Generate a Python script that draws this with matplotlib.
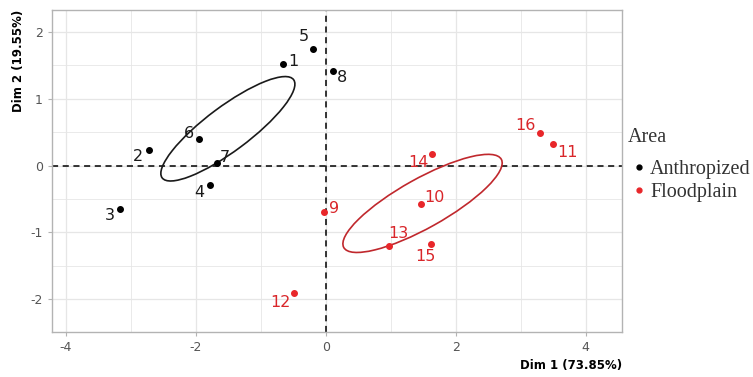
import matplotlib.pyplot as plt
from matplotlib.patches import Ellipse
from matplotlib.lines import Line2D

# individual coordinates on the first two dimensions
labels = ['1', '2', '3', '4', '5', '6', '7', '8',
          '9', '10', '11', '12', '13', '14', '15', '16']
dim1 = [-0.65, -2.72, -3.16, -1.78, -0.19, -1.95, -1.67, 0.11,
        -0.02, 1.46, 3.50, -0.48, 0.97, 1.64, 1.62, 3.29]
dim2 = [1.52, 0.23, -0.65, -0.29, 1.75, 0.40, 0.04, 1.42,
        -0.70, -0.58, 0.33, -1.91, -1.20, 0.18, -1.18, 0.49]
area = ['Anthropized'] * 8 + ['Floodplain'] * 8

# label offsets in pixels (repelled text)
lab_dx = [10, -11, -10, -11, -10, -10, 8, 9, 10, 14, 14, -14, 10, -14, -6, -14]
lab_dy = [3, -6, -6, -7, 12, 5, 5, -7, 4, 7, -9, -9, 12, -9, -12, 7]

# group ellipses: center x, center y, width, height, angle
ell_groups = ['Anthropized', 'Floodplain']
ell_cx = [-1.505, 1.49]
ell_cy = [0.552, -0.565]
ell_w = [2.50, 2.76]
ell_h = [0.67, 0.74]
ell_ang = [35.9, 28.5]

point_col = {'Anthropized': 'black', 'Floodplain': '#e8262a'}
ell_col = {'Anthropized': '#1a1a1a', 'Floodplain': '#c0282d'}

fig = plt.figure(figsize=(7.53, 3.77), dpi=100)
ax = fig.add_axes([0.0687, 0.1202, 0.7577, 0.8533])

# grid like ggplot theme_light
for v in [-4, -3, -2, -1, 0, 1, 2, 3, 4]:
    ax.axvline(v, color='#e6e6e6', lw=0.9 if v % 2 == 0 else 0.6, zorder=0)
for v in [-2, -1.5, -1, -0.5, 0, 0.5, 1, 1.5, 2]:
    ax.axhline(v, color='#e6e6e6', lw=0.9 if v % 1 == 0 else 0.6, zorder=0)

ax.axhline(0, color='black', ls=(0, (4, 3)), lw=1.1, zorder=1)
ax.axvline(0, color='black', ls=(0, (4, 3)), lw=1.1, zorder=1)

for g, cx, cy, w, h, a in zip(ell_groups, ell_cx, ell_cy, ell_w, ell_h, ell_ang):
    ax.add_patch(Ellipse((cx, cy), w, h, angle=a, fill=False,
                         edgecolor=ell_col[g], lw=1.2, zorder=2))

for lab, x, y, g, dx, dy in zip(labels, dim1, dim2, area, lab_dx, lab_dy):
    ax.plot(x, y, 'o', color=point_col[g], ms=4, zorder=3)
    ax.annotate(lab, (x, y), textcoords='offset pixels', xytext=(dx, dy),
                ha='center', va='center', fontsize=11.5,
                color='#1a1a1a' if g == 'Anthropized' else '#d9262a', zorder=4)

ax.set_xlim(-4.215, 4.563)
ax.set_ylim(-2.485, 2.33)
ax.set_xticks([-4, -2, 0, 2, 4])
ax.set_xticklabels(['-4', '-2', '0', '2', '4'])
ax.set_yticks([-2, -1, 0, 1, 2])
ax.set_yticklabels(['-2', '-1', '0', '1', '2'])
ax.tick_params(colors='#b3b3b3', labelcolor='#555555', labelsize=9, length=3, width=0.8)
for s in ax.spines.values():
    s.set_color('#b3b3b3')
    s.set_linewidth(1.0)

ax.set_xlabel('Dim 1 (73.85%)', fontsize=8.5, fontweight='bold', loc='right')
ax.set_ylabel('Dim 2 (19.55%)', fontsize=8.5, fontweight='bold', loc='top')

# legend
fig.text(628 / 753, 1 - 138 / 377, 'Area', family='Liberation Serif', fontsize=14.5,
         color='#333333', ha='left', va='center')
handles = [Line2D([], [], marker='o', ls='', color=point_col[g], ms=3.5) for g in ell_groups]
leg = fig.legend(handles, ell_groups, loc='center left',
                 bbox_to_anchor=(0.842, 1 - 181 / 377), frameon=False,
                 prop={'family': 'Liberation Serif', 'size': 14.5},
                 handlelength=0.5, handletextpad=0.3, labelspacing=0.22,
                 borderpad=0.0, borderaxespad=0.0)
for t in leg.get_texts():
    t.set_color('#333333')

plt.savefig('out.png', dpi=100)
